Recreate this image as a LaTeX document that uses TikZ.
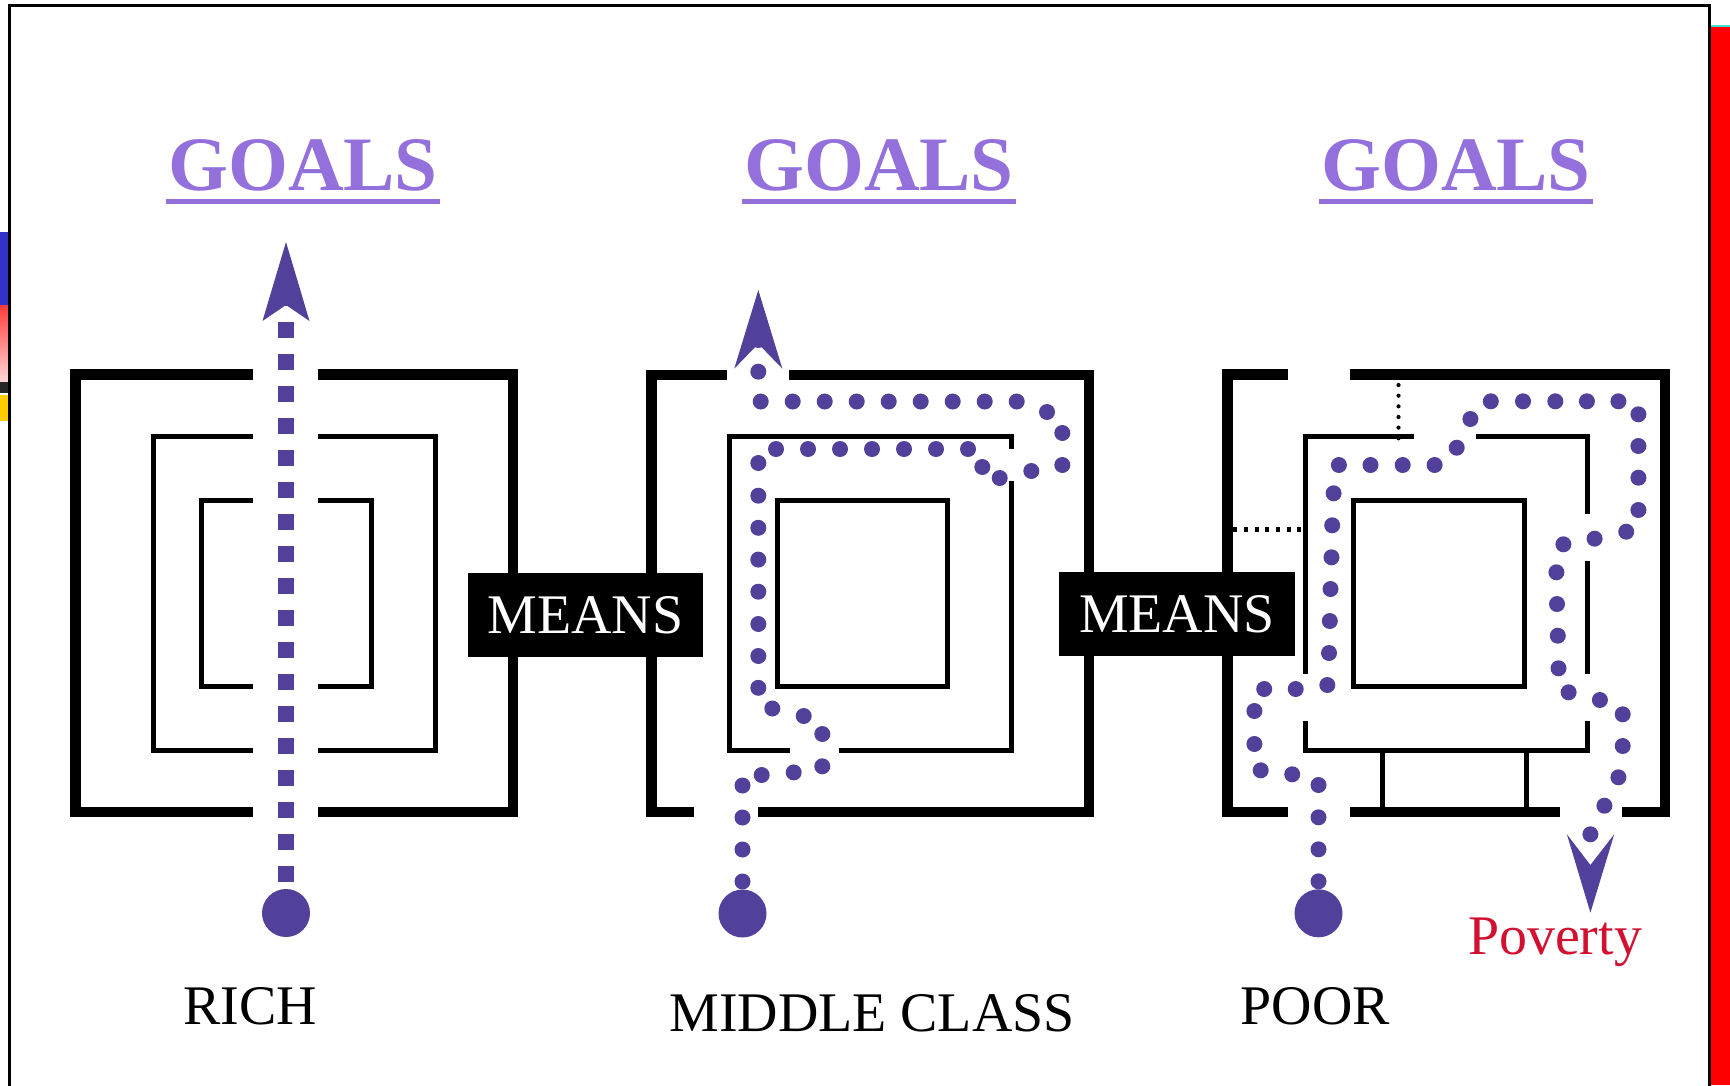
\documentclass[tikz,border=0pt]{standalone}
\usepackage{fontspec}
\setmainfont{Liberation Serif}
\definecolor{dotc}{RGB}{83,64,155}
\definecolor{goalc}{RGB}{147,112,219}
\definecolor{povc}{RGB}{210,16,48}
\definecolor{sideblue}{RGB}{50,50,200}
\definecolor{sideyellow}{RGB}{255,204,0}
\definecolor{sideteal}{RGB}{64,224,208}
\tikzset{
  wallthick/.style={line width=10.7pt, line join=miter, line cap=butt},
  wallthin/.style={line width=5pt, line join=miter, line cap=butt},
  lbl/.style={inner sep=0pt, anchor=base, font=\fontsize{55.9}{60}\selectfont},
  goal/.style={inner sep=0pt, anchor=base, text=goalc, font=\fontsize{77}{80}\selectfont\bfseries},
  goalline/.style={goalc, line width=4.4pt},
  meansbox/.style={fill=black, text=white, minimum width=235.5pt, minimum height=84pt, inner sep=0pt, font=\fontsize{55.9}{60}\selectfont},
  startdot/.style={circle, fill=dotc, minimum size=48pt, inner sep=0pt},
  pathhead/.style={fill=dotc},
}
\begin{document}
\begin{tikzpicture}[x=1pt,y=-1pt]
\useasboundingbox (0,0) rectangle (1730,1085);
\fill[white] (0,0) rectangle (1730,1085);
% side artefacts
\fill[sideblue] (0,232) rectangle (8,305);
\shade[top color={rgb,255:red,255;green,60;blue,60}, bottom color={rgb,255:red,255;green,215;blue,215}] (0,305) rectangle (8,382);
\fill[black!85] (0,382) rectangle (8,393);
\fill[sideyellow] (0,395) rectangle (8,421);
\fill[red] (1711,27) rectangle (1730,1085);
\fill[sideteal] (1711,25) rectangle (1730,27);
\draw[line width=2.6pt] (9.5,1086) -- (9.5,5.3) -- (1709.7,5.3) -- (1709.7,1086);

% ---------- maze 1 (rich) ----------
\draw[wallthick] (252.6,374.5) -| (75.7,812) -- (252.6,812);
\draw[wallthick] (318,374.5) -| (513,812) -- (318,812);
\draw[wallthin] (252.6,436) -| (153.5,750.5) -- (252.6,750.5);
\draw[wallthin] (318,436) -| (435.5,750.5) -- (318,750.5);
\draw[wallthin] (252.6,500) -| (201,686.5) -- (252.6,686.5);
\draw[wallthin] (318,500) -| (371.5,686.5) -- (318,686.5);

% ---------- maze 2 (middle class) ----------
\draw[wallthick] (727,375) -| (651.5,812) -- (694,812);
\draw[wallthick] (789,375) -| (1089,812) -- (758,812);
\draw[wallthin] (1011.5,481) |- (839,750);
\draw[wallthin] (790,750) -| (729.5,436.5) -| (1011.5,449);
\draw[wallthin] (777.5,500) rectangle (947.5,686);

% ---------- maze 3 (poor) ----------
\draw[wallthick] (1287.7,374.7) -| (1227.7,812) -- (1287.7,812);
\draw[wallthick] (1350,374.7) -| (1665,812) -- (1622,812);
\draw[wallthick] (1350,812) -- (1559.5,812);
\draw[wallthin] (1413.6,436.3) -| (1305,674.3);
\draw[wallthin] (1305,721) |- (1587.5,750) -- (1587.5,721);
\draw[wallthin] (1587.5,674.3) -- (1587.5,561);
\draw[wallthin] (1587.5,514.3) |- (1476.4,436.3);
\draw[wallthin] (1382.4,750) -- (1382.4,812);
\draw[wallthin] (1526.5,750) -- (1526.5,812);
\draw[wallthin] (1353.5,500.2) rectangle (1524,686.8);
\draw[line width=5pt, dash pattern=on 4pt off 6.67pt] (1233.3,529.3) -- (1302.7,529.3);
\draw[line width=4.2pt, line cap=round, dash pattern=on 0pt off 10.66pt] (1398.5,385) -- (1398.5,439);

% ---------- paths ----------
\node[startdot] (rich) at (286,913) {};
\draw[dotc, line width=15.7pt, dash pattern=on 16pt off 16pt] (286,882) -- (286,290);
\fill[pathhead] (286,242) -- (309.5,321) -- (286,305) -- (262.5,321) -- cycle;

\node[startdot] (mid) at (742.5,913.5) {};
\foreach \x/\y in {742.5/881.5,742.5/849.5,742.5/817.5,742.5/785.5,761.7/775,793.7/772.4,822.3/766.3,822.3/734,803.7/716,772.3/708.5,758.3/687.8,758.3/656,758.3/624,758.3/591.7,758.3/559.6,758.3/527.8,758.3/495.7,758.3/463,776/449,808/449,840/449,872/449,904/449,936/449,968/449,982.3/467,999.7/478,1031.3/471,1062.3/465,1062.3/433,1047/412,1016.7/401.5,984.7/401.5,952.7/401.5,920.7/401.5,888.7/401.5,856.7/401.5,824.7/401.5,792.7/401.5,760.7/401.5,758.3/371.7,758.3/340}
  \fill[dotc] (\x,\y) circle[radius=8pt];
\fill[pathhead] (758.3,290) -- (782.3,368.6) -- (758.3,343.8) -- (734.3,368.6) -- cycle;

\node[startdot] (poor) at (1318.5,913.3) {};
\foreach \x/\y in {1318.5/881.3,1318.5/849.3,1318.5/817.3,1318.5/785,1292.2/774.3,1260.7/770.3,1254.4/744,1254.4/711,1264.2/689,1295.7/689,1327.3/685,1329/653,1329.8/621,1330.5/589,1331.5/557.3,1332.2/525.3,1333.6/493.3,1338.9/465,1370.5/465,1402.7/465,1434.6/465,1456.7/447.7,1470.4/419,1490.8/401.3,1523/401.3,1555.3/401.3,1586.9/401.3,1618.4/401.3,1638.4/414.3,1638.4/446,1638.4/477.7,1638.4/510,1626.2/531.7,1594.6/538.7,1563.4/544.3,1556.4/572.3,1557/604,1557.8/635.7,1558.5/668.3,1568.6/692.3,1599.9/700,1622.7/714.3,1622.7/746,1618.4/777.3,1604.4/805.7,1590.4/834.3}
  \fill[dotc] (\x,\y) circle[radius=8pt];
\fill[pathhead] (1566.9,834.3) -- (1590.4,865) -- (1614.2,834.3) -- (1590.4,912.7) -- cycle;

% ---------- means boxes ----------
\node[meansbox] (m1) at (585.5,615) {MEANS};
\node[meansbox] (m2) at (1176.9,614) {MEANS};

% ---------- labels ----------
\node[goal] (g1) at (303,190) {GOALS};
\node[goal] (g2) at (879,190) {GOALS};
\node[goal] (g3) at (1456,190) {GOALS};
\draw[goalline] (166,201.5) -- (440,201.5);
\draw[goalline] (742,201.5) -- (1016,201.5);
\draw[goalline] (1319.3,201.5) -- (1592.7,201.5);

\node[lbl] (lrich) at (250,1024) {RICH};
\node[lbl] (lmid) at (872,1031.7) {MIDDLE CLASS};
\node[lbl] (lpoor) at (1315.4,1024) {POOR};
\node[lbl, text=povc] (lpov) at (1555,954) {Poverty};
\end{tikzpicture}
\end{document}
